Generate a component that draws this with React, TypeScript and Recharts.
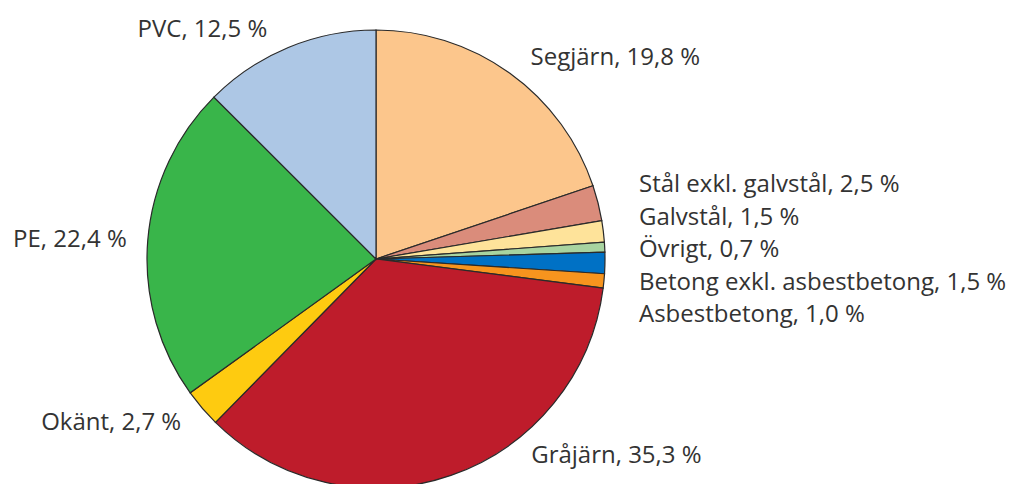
import React from "react";
import { PieChart, Pie, Cell } from "recharts";

const categories = [
  "Segjärn",
  "Stål exkl. galvstål",
  "Galvstål",
  "Övrigt",
  "Betong exkl. asbestbetong",
  "Asbestbetong",
  "Gråjärn",
  "Okänt",
  "PE",
  "PVC",
];
const shares = [19.8, 2.5, 1.5, 0.7, 1.5, 1.0, 35.3, 2.7, 22.4, 12.5];
const colors = [
  "#FCC68C",
  "#DA8C7B",
  "#FEE39A",
  "#A8D4A0",
  "#0071C5",
  "#F7941E",
  "#BE1C2B",
  "#FECB10",
  "#39B54A",
  "#ADC7E5",
];

const data = categories.map((name, i) => ({ name, value: shares[i] }));

const total = shares.reduce((a, b) => a + b, 0);
const midFromTop: number[] = [];
{
  let acc = 0;
  shares.forEach((s) => {
    midFromTop.push(((acc + s / 2) / total) * 360);
    acc += s;
  });
}
// small slices on the right side get a stacked label column
const stacked = shares
  .map((s, i) => i)
  .filter((i) => shares[i] < 2.6 && midFromTop[i] < 180);

const RAD = Math.PI / 180;
const FONT = 24;

const fmt = (v: number) => v.toFixed(1).replace(".", ",") + " %";

function renderLabel(props: any) {
  const { cx, cy, midAngle, outerRadius, index } = props;
  const R = outerRadius + 29;
  const text = `${categories[index]}, ${fmt(shares[index])}`;
  let x: number;
  let y: number;
  let anchor: "start" | "end";
  const g = stacked.indexOf(index);
  if (g >= 0) {
    const mid = stacked[Math.floor(stacked.length / 2)];
    const y0 = cy - R * Math.cos(midFromTop[mid] * RAD) + 3;
    x = cx + outerRadius + 34;
    y = y0 + (g - (stacked.length - 1) / 2) * 32.5;
    anchor = "start";
  } else {
    const c = Math.cos(-midAngle * RAD);
    const s = Math.sin(-midAngle * RAD);
    x = cx + outerRadius * c + 21 * Math.sign(c);
    y = cy + outerRadius * s + 20 * s;
    const maxDy = outerRadius - 33;
    if (y - cy > maxDy) {
      y = cy + maxDy;
      const r2 = outerRadius + 21;
      x = cx + Math.sign(c) * Math.sqrt(r2 * r2 - maxDy * maxDy);
    }
    anchor = c >= 0 ? "start" : "end";
  }
  return (
    <text
      key={`lbl-${index}`}
      x={x}
      y={y + FONT * 0.35}
      textAnchor={anchor}
      fill="#333333"
      fontSize={FONT}
      fontFamily="'Open Sans', sans-serif"
    >
      {text}
    </text>
  );
}

export default function App() {
  return (
    <div style={{ position: "absolute", left: 0, top: 0, background: "#fff" }}>
      <PieChart
        width={1010}
        height={484}
        margin={{ top: 0, right: 0, bottom: 0, left: 0 }}
      >
        <Pie
          data={data}
          dataKey="value"
          nameKey="name"
          cx={376}
          cy={259}
          outerRadius={229}
          innerRadius={0}
          startAngle={90}
          endAngle={-270}
          stroke="#2a2a2a"
          strokeWidth={1.2}
          label={renderLabel}
          labelLine={false}
          isAnimationActive={false}
        >
          {data.map((d, i) => (
            <Cell key={d.name} fill={colors[i]} />
          ))}
        </Pie>
      </PieChart>
    </div>
  );
}
